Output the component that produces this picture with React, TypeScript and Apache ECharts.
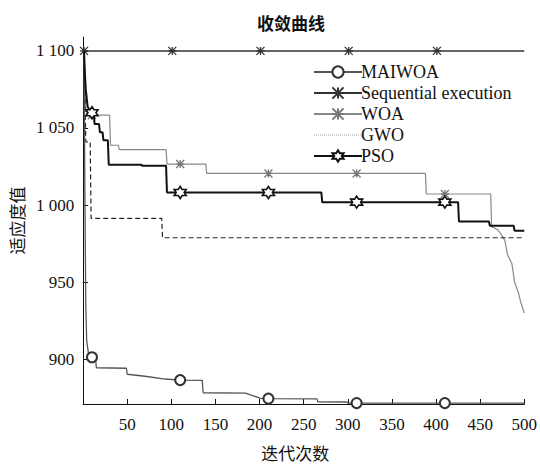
import React, { useEffect, useRef } from "react";
import * as echarts from "echarts";

const titleText = "收敛曲线";
const xAxisName = "迭代次数";
const yAxisName = "适应度值";
const legendNames = ["MAIWOA", "Sequential execution", "WOA", "GWO", "PSO"];

const yTickValues = [900, 950, 1000, 1050, 1100];
const xMin = 0;
const xMax = 500;
const yMin = 871;
const yMax = 1109;

const markerIters = [10, 110, 210, 310, 410];
const seqMarkerIters = [1, 101, 201, 301, 401];

const maiwoa: number[][] = [
  [1, 1100], [2, 1005], [3, 935], [4, 912], [6, 904], [10, 901.3], [14, 900.8],
  [15, 894.5], [49, 894.2], [50, 890.3], [70, 889], [93, 887.2], [110, 886.5],
  [135, 886.3], [136, 878.3], [184, 878], [192, 876.5], [201, 874.6], [210, 874.5],
  [265, 874.3], [266, 872.4], [299, 872.3], [300, 871.6], [310, 871.6], [410, 871.6],
  [500, 871.6],
];

const sequential: number[][] = [
  [1, 1100], [101, 1100], [201, 1100], [301, 1100], [401, 1100], [500, 1100],
];

const woa: number[][] = [
  [1, 1100], [2, 1080], [3, 1062], [5, 1058.4], [10, 1058.4], [30, 1058.4],
  [31, 1038.8], [40, 1038.8], [41, 1036], [94, 1036], [95, 1026.6], [110, 1026.6],
  [139, 1026.6], [140, 1020.5], [210, 1020.5], [310, 1020.5], [388, 1020.5],
  [389, 1007.2], [410, 1007.2], [462, 1007.2], [463, 986], [470, 984], [475, 980],
  [478, 977], [481, 968], [486, 962], [489, 950], [493, 944], [496, 937], [500, 930],
];

const gwo: number[][] = [
  [1, 1100], [2, 1072], [3, 1041], [8, 1041], [9, 991.4], [89, 991.4],
  [90, 978.8], [500, 978.8],
];

const pso: number[][] = [
  [1, 1100], [2, 1085], [3, 1075], [5, 1064], [8, 1060.5], [10, 1059.9],
  [12, 1059.5], [13, 1052.5], [18, 1052.5], [19, 1047.2], [22, 1047.2], [23, 1042],
  [28, 1042], [29, 1026.2], [66, 1026.2], [67, 1025.5], [94, 1025.5], [95, 1008.2],
  [110, 1008.2], [210, 1008.2], [270, 1008.2], [271, 1001.9], [310, 1001.9],
  [410, 1001.9], [425, 1001.9], [426, 989.3], [460, 989.3], [461, 986.6],
  [488, 986.6], [489, 983.4], [500, 983.4],
];

const ASTERISK = "path://M0,0L10,10M0,10L10,0M5,0L5,10M0,5L10,5";
const HEXAGRAM =
  "path://M0,-10L2.89,-5L8.66,-5L5.77,0L8.66,5L2.89,5L0,10L-2.89,5L-8.66,5L-5.77,0L-8.66,-5L-2.89,-5Z";

const SERIF = "'Liberation Serif', 'Times New Roman', serif";
const CJK = "'Noto Sans CJK SC', sans-serif";

function withMarkers(points: number[][], marks: number[]) {
  return points.map((p) =>
    marks.includes(p[0]) ? { value: p } : { value: p, symbol: "none" }
  );
}

function fmtY(v: number) {
  if (v >= 1000) {
    const th = Math.floor(v / 1000);
    const rest = String(v % 1000).padStart(3, "0");
    return th + " " + rest;
  }
  return String(v);
}

export default function App() {
  const ref = useRef<HTMLDivElement>(null);
  useEffect(() => {
    document.body.style.margin = "0";
    if (!ref.current) return;
    const chart = echarts.init(ref.current, undefined, { renderer: "svg" });
    chart.setOption({
      animation: false,
      backgroundColor: "#ffffff",
      textStyle: { fontFamily: SERIF },
      title: {
        text: titleText,
        left: 252,
        top: 9,
        textStyle: { fontFamily: CJK, fontSize: 17, fontWeight: "bold", color: "#111" },
      },
      legend: {
        orient: "vertical",
        left: 308,
        top: 58,
        itemWidth: 48,
        itemHeight: 14,
        itemGap: 3,
        textStyle: { fontFamily: SERIF, fontSize: 18, color: "#111", lineHeight: 18, padding: [0, 0, 0, -6] },
        data: [
          { name: legendNames[0] },
          { name: legendNames[1] },
          { name: legendNames[2] },
          {
            name: legendNames[3],
            lineStyle: { color: "#aaa", type: "dotted", width: 1 },
            itemStyle: { color: "rgba(0,0,0,0)", borderColor: "rgba(0,0,0,0)", borderWidth: 0 },
          },
          { name: legendNames[4] },
        ],
      },
      grid: { left: 77, right: 15, top: 37, bottom: 53, containLabel: false },
      xAxis: {
        type: "value",
        min: xMin,
        max: xMax,
        interval: 50,
        name: xAxisName,
        nameLocation: "middle",
        nameGap: 40,
        nameTextStyle: { fontFamily: CJK, fontSize: 17, color: "#111", padding: [0, 17, 0, 0] },
        axisLine: { show: true, lineStyle: { color: "#111", width: 1 } },
        axisTick: { show: true, inside: true, length: 5, lineStyle: { color: "#111" } },
        axisLabel: {
          fontFamily: SERIF,
          fontSize: 17,
          color: "#111",
          margin: 12,
          formatter: (v: number) => (v === 0 ? "" : String(v)),
        },
        splitLine: { show: false },
      },
      yAxis: {
        type: "value",
        min: yMin,
        max: yMax,
        name: yAxisName,
        nameLocation: "middle",
        nameRotate: 90,
        nameGap: 56,
        nameTextStyle: { fontFamily: CJK, fontSize: 17, color: "#111" },
        axisLine: { show: true, lineStyle: { color: "#111", width: 1 } },
        axisTick: {
          show: true,
          inside: true,
          length: 5,
          customValues: yTickValues,
          lineStyle: { color: "#111" },
        },
        axisLabel: {
          fontFamily: SERIF,
          fontSize: 17,
          color: "#111",
          margin: 9,
          customValues: yTickValues,
          formatter: (v: number) => fmtY(v),
        },
        splitLine: { show: false },
      },
      series: [
        {
          name: legendNames[0],
          type: "line",
          data: withMarkers(maiwoa, markerIters),
          symbol: "emptyCircle",
          symbolSize: 10,
          lineStyle: { color: "#555", width: 1.3 },
          itemStyle: { color: "#333", borderColor: "#333", borderWidth: 1.2 },
          z: 3,
        },
        {
          name: legendNames[1],
          type: "line",
          data: withMarkers(sequential, seqMarkerIters),
          symbol: ASTERISK,
          symbolSize: 8,
          lineStyle: { color: "#333", width: 1.5 },
          itemStyle: { color: "none", borderColor: "#333", borderWidth: 1.3 },
          z: 3,
        },
        {
          name: legendNames[2],
          type: "line",
          data: withMarkers(woa, markerIters),
          symbol: ASTERISK,
          symbolSize: 8,
          lineStyle: { color: "#888", width: 1.2 },
          itemStyle: { color: "none", borderColor: "#777", borderWidth: 1.3 },
          z: 2,
        },
        {
          name: legendNames[3],
          type: "line",
          data: gwo.map((p) => ({ value: p, symbol: "none" })),
          symbol: "circle",
          symbolSize: 1,
          lineStyle: { color: "#222", width: 1.2, type: [5, 3] },
          itemStyle: { color: "#222" },
          z: 2,
        },
        {
          name: legendNames[4],
          type: "line",
          data: withMarkers(pso, markerIters),
          symbol: HEXAGRAM,
          symbolSize: 12,
          lineStyle: { color: "#111", width: 2 },
          itemStyle: { color: "#fff", borderColor: "#111", borderWidth: 1.6 },
          z: 4,
        },
      ],
    });
    return () => chart.dispose();
  }, []);
  return (
    <div
      ref={ref}
      style={{ position: "fixed", left: 0, top: 0, width: 540, height: 466, background: "#fff" }}
    />
  );
}
